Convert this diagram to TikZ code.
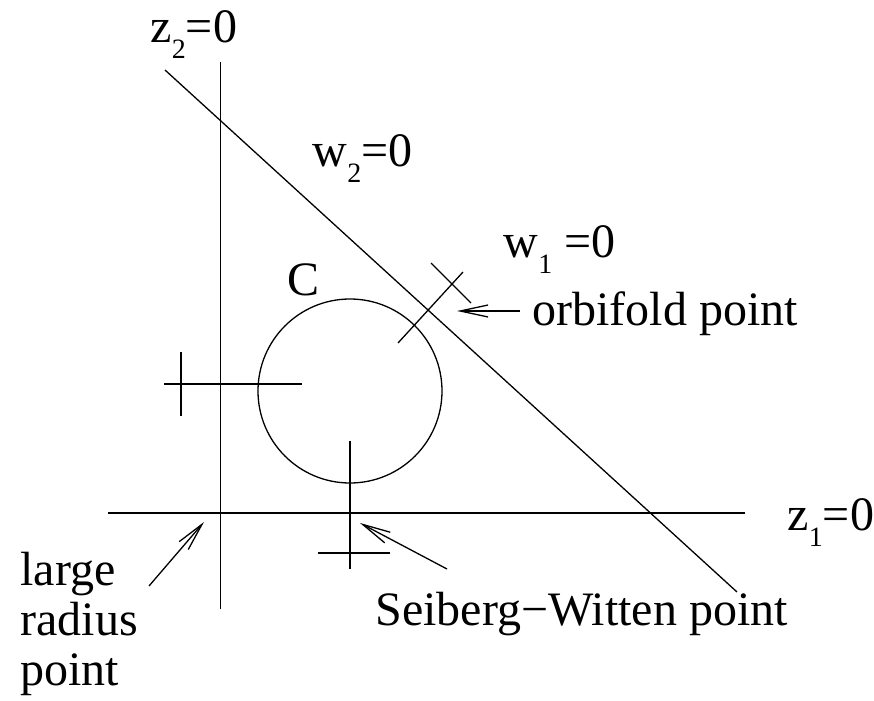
\documentclass[tikz,border=0pt]{standalone}
\usepackage{fontspec}
\setmainfont{Liberation Serif}
\usepackage{tikz}
\usetikzlibrary{positioning,arrows.meta}
\newcommand{\lowidx}[1]{\raisebox{-8pt}{\fontsize{14}{14}\selectfont #1}}

\begin{document}
\begin{tikzpicture}[x=0.5pt, y=-0.5pt, line width=0.65pt, lbl/.style = {anchor=base west, inner sep=0pt, font=\fontsize{24}{26}\selectfont}, ptr/.style = {-{Straight Barb[length=14pt,width=6pt]}}]
\useasboundingbox (0,0) rectangle (874,701);

% axes and the line w2=0
\coordinate (vtop) at (220.7,62);
\coordinate (vbot) at (220.7,609);
\coordinate (hleft) at (108,513);
\coordinate (hright) at (745,513);
\coordinate (dtop) at (165,70);
\coordinate (dbot) at (737,592);
\draw (vtop) -- (vbot);
\draw (hleft) -- (hright);
\draw (dtop) -- (dbot);

% the curve C
\coordinate (c) at (350,391);
\draw (c) circle[radius=46pt];

% crosses
\draw (164,384) -- (302,384);
\draw (181,352) -- (181,416);
\draw (350,441) -- (350,569);
\draw (318,553) -- (390,553);
\draw (398,343) -- (463,272);
\draw (431,263) -- (471,303);

\node[lbl] (z2) at (150,43) {z\lowidx{2}=0};
\node[lbl] (w2) at (312,167) {w\lowidx{2}=0};
\node[lbl] (w1) at (503,257) {w\lowidx{1} =0};
\node[lbl] (C) at (287,295) {C};
\node[lbl] (z1) at (787,530) {z\lowidx{1}=0};
\node[lbl] (orb) at (532,325) {orbifold point};
\node[lbl] (sw) at (375,625) {Seiberg−Witten point};
\node[lbl] (large) at (20,585) {large};
\node[lbl] (radius) at (20,635) {radius};
\node[lbl] (lpoint) at (20,685) {point};

\coordinate (orbtail) at (520,311);
\coordinate (orbtip) at (457,311);
\coordinate (swtail) at (447,569);
\coordinate (swtip) at (360,523);
\coordinate (lrtail) at (149,586);
\coordinate (lrtip) at (204,522);
\draw[ptr] (orbtail) -- (orbtip);
\draw[ptr] (swtail) -- (swtip);
\draw[ptr] (lrtail) -- (lrtip);
\end{tikzpicture}
\end{document}
